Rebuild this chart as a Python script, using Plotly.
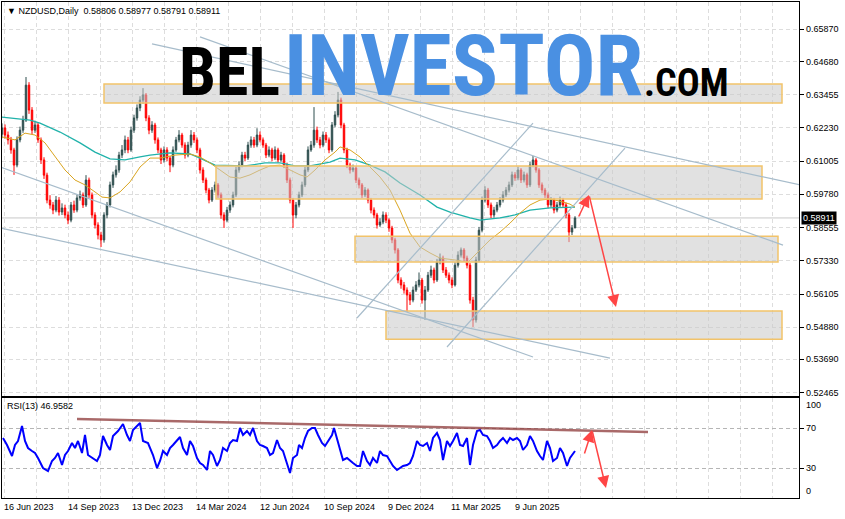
import plotly.graph_objects as go

# ---------------- data ----------------
# Candles: each candle aggregates 3 trading days; x is the bar position
first_open = 0.6200
closes = [
    0.6223, 0.6197, 0.6179, 0.6142, 0.6086, 0.6179, 0.6215, 0.6252, 0.6381, 0.6289,
    0.6215, 0.6234, 0.6179, 0.6105, 0.6049, 0.5957, 0.5939, 0.5920, 0.5957, 0.5913,
    0.5928, 0.5902, 0.5883, 0.5939, 0.5920, 0.5965, 0.5976, 0.5939, 0.6031, 0.5976,
    0.5902, 0.5865, 0.5828, 0.5810, 0.5902, 0.5939, 0.6013, 0.6050, 0.6068, 0.6123,
    0.6142, 0.6179, 0.6142, 0.6215, 0.6260, 0.6297, 0.6326, 0.6345, 0.6260, 0.6215,
    0.6234, 0.6179, 0.6142, 0.6105, 0.6142, 0.6112, 0.6086, 0.6142, 0.6179, 0.6197,
    0.6160, 0.6123, 0.6160, 0.6197, 0.6179, 0.6142, 0.6068, 0.6031, 0.5994, 0.5957,
    0.5994, 0.6013, 0.5976, 0.5902, 0.5883, 0.5920, 0.5939, 0.5976, 0.6068, 0.6086,
    0.6123, 0.6112, 0.6160, 0.6179, 0.6160, 0.6197, 0.6179, 0.6160, 0.6123, 0.6142,
    0.6112, 0.6142, 0.6105, 0.6123, 0.6086, 0.6031, 0.5957, 0.5902, 0.5939, 0.5976,
    0.6013, 0.6068, 0.6142, 0.6160, 0.6215, 0.6179, 0.6160, 0.6197, 0.6179, 0.6142,
    0.6234, 0.6271, 0.6326, 0.6234, 0.6142, 0.6086, 0.6068, 0.6075, 0.6031, 0.6013,
    0.5976, 0.5994, 0.5957, 0.5920, 0.5902, 0.5865, 0.5876, 0.5902, 0.5883, 0.5854,
    0.5810, 0.5773, 0.5662, 0.5644, 0.5625, 0.5607, 0.5588, 0.5625, 0.5644, 0.5662,
    0.5588, 0.5625, 0.5680, 0.5699, 0.5662, 0.5729, 0.5743, 0.5699, 0.5680, 0.5662,
    0.5644, 0.5717, 0.5754, 0.5773, 0.5743, 0.5717, 0.5588, 0.5515, 0.5736, 0.5846,
    0.5957, 0.5994, 0.5939, 0.5902, 0.5920, 0.5939, 0.5957, 0.5976, 0.5994, 0.6013,
    0.6050, 0.6039, 0.6068, 0.6031, 0.6050, 0.6013, 0.6086, 0.6105, 0.6068, 0.6013,
    0.5994, 0.5976, 0.5939, 0.5957, 0.5920, 0.5939, 0.5957, 0.5939, 0.5902, 0.5839,
    0.5854, 0.58911]
highs = [
    0.6240, 0.6236, 0.6210, 0.6190, 0.6150, 0.6192, 0.6228, 0.6268, 0.6411, 0.6392,
    0.6300, 0.6250, 0.6242, 0.6188, 0.6115, 0.6058, 0.5975, 0.5950, 0.5972, 0.5968,
    0.5945, 0.5940, 0.5915, 0.5950, 0.5955, 0.5978, 0.5992, 0.5985, 0.6049, 0.6040,
    0.5985, 0.5912, 0.5875, 0.5840, 0.5912, 0.5950, 0.6025, 0.6062, 0.6085, 0.6135,
    0.6160, 0.6195, 0.6190, 0.6228, 0.6272, 0.6310, 0.6340, 0.6370, 0.6352, 0.6270,
    0.6248, 0.6242, 0.6188, 0.6150, 0.6155, 0.6152, 0.6120, 0.6155, 0.6190, 0.6215,
    0.6205, 0.6170, 0.6172, 0.6215, 0.6208, 0.6188, 0.6150, 0.6078, 0.6040, 0.6002,
    0.6005, 0.6025, 0.6020, 0.5985, 0.5912, 0.5932, 0.5952, 0.5988, 0.6080, 0.6100,
    0.6135, 0.6135, 0.6172, 0.6192, 0.6190, 0.6222, 0.6210, 0.6188, 0.6168, 0.6155,
    0.6150, 0.6155, 0.6150, 0.6135, 0.6130, 0.6095, 0.6040, 0.5965, 0.5950, 0.5988,
    0.6025, 0.6080, 0.6155, 0.6175, 0.6300, 0.6228, 0.6190, 0.6210, 0.6208, 0.6188,
    0.6245, 0.6285, 0.6356, 0.6335, 0.6242, 0.6150, 0.6095, 0.6088, 0.6082, 0.6040,
    0.6020, 0.6005, 0.6000, 0.5965, 0.5930, 0.5910, 0.5890, 0.5915, 0.5912, 0.5890,
    0.5862, 0.5818, 0.5780, 0.5672, 0.5655, 0.5635, 0.5618, 0.5638, 0.5658, 0.5690,
    0.5670, 0.5640, 0.5692, 0.5715, 0.5708, 0.5740, 0.5760, 0.5752, 0.5710, 0.5690,
    0.5672, 0.5728, 0.5768, 0.5782, 0.5780, 0.5752, 0.5725, 0.5600, 0.5748, 0.5858,
    0.5970, 0.6008, 0.6002, 0.5948, 0.5932, 0.5950, 0.5968, 0.5990, 0.6005, 0.6025,
    0.6062, 0.6060, 0.6080, 0.6075, 0.6062, 0.6058, 0.6098, 0.6120, 0.6112, 0.6075,
    0.6022, 0.6002, 0.5985, 0.5968, 0.5965, 0.5950, 0.5970, 0.5965, 0.5948, 0.5910,
    0.5865, 0.58977]
lows = [
    0.6185, 0.6184, 0.6162, 0.6128, 0.6050, 0.6078, 0.6170, 0.6205, 0.6245, 0.6275,
    0.6200, 0.6205, 0.6168, 0.6090, 0.6035, 0.5945, 0.5925, 0.5905, 0.5912, 0.5900,
    0.5902, 0.5890, 0.5868, 0.5875, 0.5910, 0.5912, 0.5955, 0.5928, 0.5932, 0.5965,
    0.5890, 0.5852, 0.5812, 0.5784, 0.5800, 0.5890, 0.5930, 0.6002, 0.6040, 0.6058,
    0.6112, 0.6130, 0.6130, 0.6135, 0.6205, 0.6250, 0.6285, 0.6312, 0.6248, 0.6200,
    0.6205, 0.6165, 0.6130, 0.6090, 0.6095, 0.6100, 0.6060, 0.6078, 0.6135, 0.6170,
    0.6150, 0.6110, 0.6115, 0.6150, 0.6168, 0.6130, 0.6055, 0.6020, 0.5982, 0.5945,
    0.5950, 0.5985, 0.5965, 0.5888, 0.5854, 0.5875, 0.5910, 0.5930, 0.5968, 0.6058,
    0.6078, 0.6100, 0.6105, 0.6150, 0.6150, 0.6152, 0.6170, 0.6150, 0.6112, 0.6115,
    0.6100, 0.6105, 0.6095, 0.6098, 0.6075, 0.6020, 0.5945, 0.5854, 0.5890, 0.5930,
    0.5968, 0.6005, 0.6060, 0.6135, 0.6150, 0.6168, 0.6148, 0.6152, 0.6168, 0.6130,
    0.6135, 0.6225, 0.6262, 0.6222, 0.6130, 0.6075, 0.6055, 0.6060, 0.6020, 0.6000,
    0.5965, 0.5968, 0.5945, 0.5908, 0.5890, 0.5852, 0.5858, 0.5868, 0.5872, 0.5840,
    0.5798, 0.5760, 0.5650, 0.5630, 0.5612, 0.5544, 0.5570, 0.5580, 0.5618, 0.5635,
    0.5575, 0.5515, 0.5618, 0.5670, 0.5650, 0.5655, 0.5720, 0.5688, 0.5670, 0.5650,
    0.5632, 0.5638, 0.5708, 0.5745, 0.5732, 0.5705, 0.5575, 0.5489, 0.5505, 0.5728,
    0.5838, 0.5948, 0.5928, 0.5890, 0.5892, 0.5912, 0.5930, 0.5948, 0.5968, 0.5985,
    0.6005, 0.6028, 0.6030, 0.6020, 0.6022, 0.6002, 0.6005, 0.6078, 0.6058, 0.6002,
    0.5982, 0.5965, 0.5928, 0.5930, 0.5908, 0.5912, 0.5930, 0.5928, 0.5890, 0.5802,
    0.5828, 0.58791]
bars_per_candle = 3

# Moving averages (bar position, value)
ma_slow_x = [2, 30, 40, 60, 80, 95, 110, 125, 140, 150, 170, 190, 200, 215, 245, 265, 280, 295,
             310, 330, 340, 355, 370, 385, 400, 420, 437, 450, 470, 480, 500, 515, 530, 550, 575]
ma_slow = [0.6263, 0.6252, 0.6241, 0.6208, 0.6168, 0.6134, 0.6109, 0.6105, 0.6116, 0.6123,
           0.6131, 0.6127, 0.6112, 0.6086, 0.6083, 0.6094, 0.6094, 0.6083, 0.6083, 0.6097,
           0.6112, 0.6105, 0.6086, 0.6061, 0.6020, 0.5976, 0.5931, 0.5913, 0.5891, 0.5883,
           0.5891, 0.5902, 0.5920, 0.5928, 0.5931]
ma_fast_x = [2, 15, 25, 35, 45, 55, 65, 75, 85, 95, 102, 110, 120, 130, 140, 150, 160, 175, 190,
             200, 210, 220, 230, 240, 250, 260, 270, 280, 290, 300, 307, 315, 325, 335, 340, 350,
             360, 370, 380, 390, 400, 410, 420, 430, 440, 455, 468, 480, 490, 500, 510, 520, 530,
             540, 550, 560, 570, 575]
ma_fast = [0.6190, 0.6179, 0.6204, 0.6197, 0.6168, 0.6116, 0.6068, 0.6031, 0.6013, 0.5987,
           0.5968, 0.5965, 0.5987, 0.6024, 0.6079, 0.6112, 0.6112, 0.6123, 0.6127, 0.6116,
           0.6094, 0.6068, 0.6042, 0.6038, 0.6050, 0.6068, 0.6083, 0.6086, 0.6068, 0.6050,
           0.6042, 0.6068, 0.6105, 0.6134, 0.6153, 0.6142, 0.6116, 0.6079, 0.6042, 0.5994,
           0.5920, 0.5835, 0.5784, 0.5762, 0.5743, 0.5736, 0.5728, 0.5773, 0.5810, 0.5839,
           0.5872, 0.5909, 0.5939, 0.5957, 0.5961, 0.5953, 0.5942, 0.5931]

# RSI(13)
rsi_x = [3, 7, 12, 15, 18, 22, 25, 28, 32, 35, 38, 43, 48, 52, 55, 58, 62, 65, 68, 72,
         75, 78, 82, 85, 88, 92, 97, 100, 103, 107, 110, 113, 118, 123, 127, 130, 133, 137, 140, 143,
         148, 153, 157, 160, 163, 167, 170, 173, 177, 180, 183, 187, 190, 193, 197, 200, 203, 207, 210, 213,
         217, 220, 223, 227, 230, 233, 237, 240, 243, 247, 250, 253, 257, 260, 263, 267, 270, 273, 277, 280,
         283, 287, 290, 293, 297, 299, 302, 305, 308, 312, 315, 318, 322, 325, 328, 332, 334, 337, 340, 343,
         347, 350, 353, 357, 360, 363, 367, 370, 373, 377, 380, 383, 387, 390, 393, 397, 400, 403, 407, 410,
         413, 417, 420, 423, 427, 430, 433, 437, 440, 443, 447, 450, 453, 457, 460, 463, 467, 470, 473, 477,
         480, 483, 487, 490, 493, 497, 500, 503, 507, 510, 513, 517, 520, 523, 527, 530, 533, 537, 540, 543,
         547, 550, 553, 557, 560, 563, 567, 570, 575]
rsi_vals = [60, 53, 42, 53, 57, 72, 57, 50, 47, 45, 40, 30, 27, 37, 40, 45, 33, 43, 47, 55,
            50, 57, 45, 63, 43, 40, 37, 43, 62, 53, 48, 62, 67, 74, 63, 57, 68, 72, 75, 57,
            55, 43, 30, 37, 47, 43, 50, 53, 58, 61, 50, 43, 57, 52, 40, 35, 33, 28, 47, 43,
            32, 38, 50, 47, 55, 58, 57, 70, 63, 67, 63, 70, 57, 53, 52, 50, 43, 45, 58, 50,
            47, 35, 25, 40, 43, 53, 50, 60, 67, 70, 70, 63, 55, 52, 57, 63, 70, 60, 50, 38,
            40, 37, 35, 32, 32, 47, 37, 33, 40, 35, 47, 43, 42, 37, 32, 28, 30, 32, 33, 35,
            42, 57, 53, 52, 55, 47, 60, 65, 58, 38, 57, 52, 57, 65, 53, 52, 60, 33, 53, 67,
            68, 63, 62, 57, 50, 53, 57, 60, 55, 60, 58, 60, 57, 48, 53, 62, 57, 47, 42, 38,
            57, 50, 37, 40, 50, 45, 32, 40, 46.9582]

# Axis ticks / labels
price_ticks = [0.65870, 0.64680, 0.63455, 0.62230, 0.61005, 0.59780, 0.58555,
               0.57330, 0.56105, 0.54880, 0.53690, 0.52465]
rsi_levels = [100, 70, 30, 0]
date_tick_x = [2, 66, 130, 194, 258, 322, 386, 449, 513]
date_labels = ["16 Jun 2023", "14 Sep 2023", "13 Dec 2023", "14 Mar 2024", "12 Jun 2024",
               "10 Sep 2024", "9 Dec 2024", "11 Mar 2025", "9 Jun 2025"]
last_price = 0.58911
ohlc_text = "0.58806 0.58977 0.58791 0.58911"
rsi_last = 46.9582

# Analysis drawings (bar position, price)
zones = [(104, 782, 0.6315, 0.6385), (216, 762, 0.5961, 0.6083),
         (355, 778, 0.5729, 0.5824), (386, 782, 0.5444, 0.5548)]
trend_lines = [(152, 0.6533, 800, 0.6013), (200, 0.6559, 783, 0.5791),
               (0, 0.6079, 533, 0.5378), (0, 0.5854, 610, 0.5374),
               (357, 0.5522, 533, 0.6241), (447, 0.5415, 625, 0.6149)]
price_arrows = [(578, 0.5891, 589, 0.5976), (589, 0.5976, 616, 0.5563)]
rsi_arrows = [(584, 43, 592, 68), (592, 68, 606, 10)]
rsi_trend = (77, 79, 648, 66)

# ---------------- figure ----------------
W, H = 845, 519
ML, MR, MT, MB = 2, 46, 2, 21
PW, PH = W - ML - MR, H - MT - MB


def px(xp):
    return (xp - ML) / PW


def py(yp):
    return (H - MB - yp) / PH


FONT = "Liberation Sans, Arial, sans-serif"
cx = [ML + bars_per_candle * i for i in range(len(closes))]
opens = [first_open] + closes[:-1]

fig = go.Figure()
fig.add_trace(go.Candlestick(
    x=cx, open=opens, high=highs, low=lows, close=closes,
    increasing=dict(line=dict(color="#2f4f4f", width=1), fillcolor="#2f4f4f"),
    decreasing=dict(line=dict(color="#ff0000", width=1), fillcolor="#ff0000"),
    whiskerwidth=0, showlegend=False, hoverinfo="skip", xaxis="x", yaxis="y"))
fig.add_trace(go.Scatter(x=ma_slow_x, y=ma_slow, mode="lines",
                         line=dict(color="#20b2aa", width=1.3), showlegend=False,
                         hoverinfo="skip", xaxis="x", yaxis="y"))
fig.add_trace(go.Scatter(x=ma_fast_x, y=ma_fast, mode="lines",
                         line=dict(color="#daa520", width=1), showlegend=False,
                         hoverinfo="skip", xaxis="x", yaxis="y"))
fig.add_trace(go.Scatter(x=rsi_x, y=rsi_vals, mode="lines",
                         line=dict(color="#0000ff", width=2), showlegend=False,
                         hoverinfo="skip", xaxis="x2", yaxis="y2"))

shapes = []
# bid line
shapes.append(dict(type="line", xref="x", yref="y", x0=ML, x1=W - MR, y0=last_price, y1=last_price,
                   line=dict(color="#c8c8c8", width=1), layer="below"))
for x0, x1, y0, y1 in zones:
    shapes.append(dict(type="rect", xref="x", yref="y", x0=x0, x1=x1, y0=y0, y1=y1,
                       fillcolor="rgba(200,200,200,0.55)",
                       line=dict(color="#f2c36a", width=1.5), layer="above"))
for x0, y0, x1, y1 in trend_lines:
    shapes.append(dict(type="line", xref="x", yref="y", x0=x0, y0=y0, x1=x1, y1=y1,
                       line=dict(color="#a7bccb", width=1.2), layer="above"))
x0, y0, x1, y1 = rsi_trend
shapes.append(dict(type="line", xref="x2", yref="y2", x0=x0, y0=y0, x1=x1, y1=y1,
                   line=dict(color="rgba(140,55,55,0.75)", width=2.5), layer="above"))

ann = []
for tx, ty, hx, hy in price_arrows:
    ann.append(dict(x=hx, y=hy, ax=tx, ay=ty, xref="x", yref="y", axref="x", ayref="y",
                    text="", showarrow=True, arrowhead=2, arrowsize=1.6, arrowwidth=1.5,
                    arrowcolor="#ff4545"))
for tx, ty, hx, hy in rsi_arrows:
    ann.append(dict(x=hx, y=hy, ax=tx, ay=ty, xref="x2", yref="y2", axref="x2", ayref="y2",
                    text="", showarrow=True, arrowhead=2, arrowsize=1.6, arrowwidth=1.5,
                    arrowcolor="#ff4545"))

TXT = dict(family=FONT, size=9, color="black")
# header texts
ann.append(dict(x=px(5), y=py(11), xref="paper", yref="paper", xanchor="left", yanchor="middle",
                text="▼ NZDUSD,Daily  " + ohlc_text, showarrow=False, font=TXT))
ann.append(dict(x=px(5), y=py(406), xref="paper", yref="paper", xanchor="left", yanchor="middle",
                text=f"RSI(13) {rsi_last:.4f}", showarrow=False, font=TXT))
# price scale labels
for v in price_ticks:
    ann.append(dict(x=px(804), y=v, xref="paper", yref="y", xanchor="left", yanchor="middle",
                    text=f"{v:.5f}", showarrow=False, font=TXT))
# RSI scale labels (MT keeps the end labels inside the window)
rsi_label_y = {100: 405, 70: 428, 30: 468, 0: 491}
for lv in rsi_levels:
    ann.append(dict(x=px(804), y=py(rsi_label_y[lv]), xref="paper", yref="paper",
                    xanchor="left", yanchor="middle", text=str(lv), showarrow=False, font=TXT))
# date labels
for dx, lab in zip(date_tick_x, date_labels):
    ann.append(dict(x=dx, y=py(507), xref="x2", yref="paper", xanchor="left", yanchor="middle",
                    text=lab, showarrow=False, font=TXT))
# current price box
ann.append(dict(x=px(801), y=last_price, xref="paper", yref="y", xanchor="left", yanchor="middle",
                text=f"{last_price:.5f}", showarrow=False, bgcolor="black", borderpad=1,
                font=dict(family=FONT, size=9, color="white")))
# logo
LOGO = "Liberation Sans Narrow, Roboto Condensed, DejaVu Sans Condensed, Liberation Sans, sans-serif"
ann.append(dict(x=px(229), y=py(72), xref="paper", yref="paper", xanchor="center", yanchor="middle",
                text="BEL", showarrow=False,
                font=dict(family=LOGO, size=66, color="black", weight="bold")))
ann.append(dict(x=px(463), y=py(65), xref="paper", yref="paper", xanchor="center", yanchor="middle",
                text="INVESTOR", showarrow=False,
                font=dict(family=LOGO, size=86, color="#4a90e2", weight="bold")))
ann.append(dict(x=px(686), y=py(83), xref="paper", yref="paper", xanchor="center", yanchor="middle",
                text=".COM", showarrow=False,
                font=dict(family=LOGO, size=38, color="black", weight="bold")))

main_bottom = py(396)
rsi_top = py(398)
grid_dash = "4px,3px"

fig.update_layout(
    width=W, height=H, margin=dict(l=ML, r=MR, t=MT, b=MB, autoexpand=False),
    paper_bgcolor="white", plot_bgcolor="white", showlegend=False,
    font=dict(family=FONT, size=9, color="black"),
    shapes=shapes, annotations=ann,
    xaxis=dict(domain=[0, 1], anchor="y", range=[ML, W - MR], showline=True, mirror=True,
               linecolor="black", linewidth=1, showticklabels=False, ticks="",
               tickmode="linear", tick0=4, dtick=32, showgrid=True, gridcolor="#dddddd",
               griddash=grid_dash, zeroline=False, rangeslider=dict(visible=False)),
    xaxis2=dict(domain=[0, 1], anchor="y2", matches="x", showline=True, mirror=True,
                linecolor="black", linewidth=1, showticklabels=False, ticks="",
                tickmode="linear", tick0=4, dtick=32, showgrid=True, gridcolor="#dddddd",
                griddash=grid_dash, zeroline=False),
    yaxis=dict(domain=[main_bottom, 1], anchor="x", side="right",
               range=[0.52343, 0.66877], tickmode="array", tickvals=price_ticks,
               showticklabels=False, ticks="outside", ticklen=4,
               tickcolor="black", showgrid=True, gridcolor="#dddddd", griddash=grid_dash,
               showline=True, mirror=True, linecolor="black", linewidth=1, zeroline=False),
    yaxis2=dict(domain=[0, rsi_top], anchor="x2", side="right", range=[0, 100],
                tickmode="array", tickvals=[70, 30], showticklabels=False, ticks="outside",
                ticklen=4, tickcolor="black", showgrid=True, gridcolor="#b5b5b5",
                griddash=grid_dash, showline=True, mirror=True, linecolor="black",
                linewidth=1, zeroline=False),
)

fig.write_html("out.html", config={"displayModeBar": False},
               post_script="document.body.style.margin='0px';")
